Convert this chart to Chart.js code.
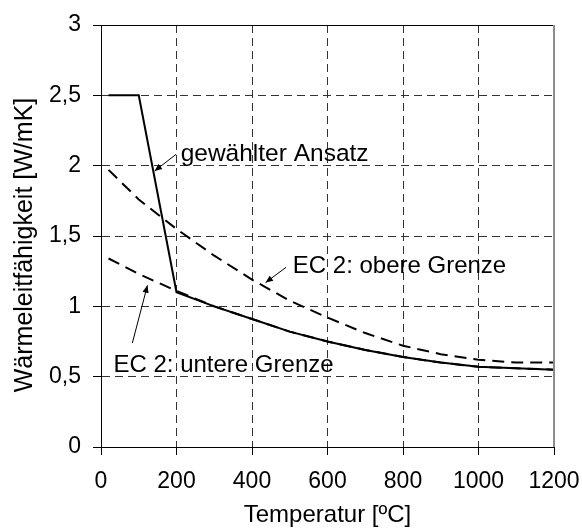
<!DOCTYPE html>
<html>
<head>
<meta charset="utf-8">
<script src="https://cdn.jsdelivr.net/npm/chart.js@4"></script>
<style>
html,body{margin:0;padding:0;background:#fff;}
canvas{display:block;}
</style>
</head>
<body>
<canvas id="c" width="582" height="530"></canvas>
<script>
// Temperatures [°C] and thermal conductivity values [W/mK]
const tempChosen = [20, 100, 200, 300, 400, 500, 600, 700, 800, 900, 1000, 1100, 1200];
const lambdaChosen = [2.5, 2.5, 1.10, 1.00, 0.91, 0.82, 0.75, 0.69, 0.64, 0.60, 0.57, 0.56, 0.55];

const tempEC = [20, 100, 200, 300, 400, 500, 600, 700, 800, 900, 1000, 1100, 1200];
const lambdaUpper = [1.97, 1.76, 1.55, 1.36, 1.19, 1.04, 0.92, 0.81, 0.72, 0.66, 0.62, 0.60, 0.60];
const lambdaLower = [1.34, 1.23, 1.11, 1.00, 0.91, 0.82, 0.75, 0.69, 0.64, 0.60, 0.57, 0.56, 0.55];

const xTicks = [0, 200, 400, 600, 800, 1000, 1200];
const yTicks = [0, 0.5, 1, 1.5, 2, 2.5, 3];

const xTitle = 'Temperatur [ºC]';
const yTitle = 'Wärmeleitfähigkeit [W/mK]';

// annotation labels (anchored in data units) and their arrows
const labelTexts = ['gewählter Ansatz', 'EC 2: obere Grenze', 'EC 2: untere Grenze'];
const labelX = [211, 508, 33];
const labelY = [2.033, 1.235, 0.535];
const arrowFromX = [199, 490, 83];
const arrowFromY = [2.081, 1.277, 0.739];
const arrowToX = [142, 436, 123];
const arrowToY = [1.962, 1.169, 1.149];

const toXY = (xs, ys) => xs.map((x, i) => ({x: x, y: ys[i]}));

const FONT = '"Liberation Sans", Arial, sans-serif';

const decoPlugin = {
  id: 'deco',
  afterDraw(chart) {
    const {ctx, chartArea: a, scales: {x, y}} = chart;
    ctx.save();
    // top frame line
    ctx.strokeStyle = '#000';
    ctx.lineWidth = 1;
    ctx.beginPath();
    ctx.moveTo(a.left, Math.round(a.top) + 0.5);
    ctx.lineTo(a.right, Math.round(a.top) + 0.5);
    ctx.stroke();
    // right frame line (gray)
    ctx.strokeStyle = '#8c8c8c';
    ctx.lineWidth = 2;
    ctx.beginPath();
    ctx.moveTo(a.right, a.top);
    ctx.lineTo(a.right, a.bottom);
    ctx.stroke();

    // annotation texts
    ctx.fillStyle = '#000';
    ctx.textAlign = 'left';
    ctx.textBaseline = 'alphabetic';
    labelTexts.forEach((t, i) => {
      ctx.font = (i === 0 ? '24.5px ' : '24px ') + FONT;
      ctx.fillText(t, x.getPixelForValue(labelX[i]), y.getPixelForValue(labelY[i]));
    });

    // arrows
    ctx.strokeStyle = '#000';
    ctx.lineWidth = 1;
    for (let i = 0; i < arrowFromX.length; i++) {
      const x1 = x.getPixelForValue(arrowFromX[i]), y1 = y.getPixelForValue(arrowFromY[i]);
      const x2 = x.getPixelForValue(arrowToX[i]), y2 = y.getPixelForValue(arrowToY[i]);
      ctx.beginPath();
      ctx.moveTo(x1, y1);
      ctx.lineTo(x2, y2);
      ctx.stroke();
      const ang = Math.atan2(y2 - y1, x2 - x1);
      const L = 8, w = 0.4;
      ctx.beginPath();
      ctx.moveTo(x2, y2);
      ctx.lineTo(x2 - L * Math.cos(ang - w), y2 - L * Math.sin(ang - w));
      ctx.lineTo(x2 - L * Math.cos(ang + w), y2 - L * Math.sin(ang + w));
      ctx.closePath();
      ctx.fill();
    }

    // y axis title
    ctx.save();
    ctx.translate(32, 245);
    ctx.rotate(-Math.PI / 2);
    ctx.font = '25px ' + FONT;
    ctx.textAlign = 'center';
    ctx.textBaseline = 'alphabetic';
    ctx.fillText(yTitle, 0, 0);
    ctx.restore();
    ctx.restore();
  }
};

new Chart(document.getElementById('c'), {
  type: 'line',
  data: {
    datasets: [
      {
        label: 'gewählter Ansatz',
        data: toXY(tempChosen, lambdaChosen),
        borderColor: '#000',
        borderWidth: 2,
        pointRadius: 0,
        tension: 0,
        fill: false
      },
      {
        label: 'EC 2: obere Grenze',
        data: toXY(tempEC, lambdaUpper),
        borderColor: '#000',
        borderWidth: 2,
        borderDash: [12, 7],
        pointRadius: 0,
        tension: 0,
        fill: false
      },
      {
        label: 'EC 2: untere Grenze',
        data: toXY(tempEC, lambdaLower),
        borderColor: '#000',
        borderWidth: 2,
        borderDash: [12, 7],
        pointRadius: 0,
        tension: 0,
        fill: false
      }
    ]
  },
  options: {
    responsive: false,
    animation: false,
    events: [],
    layout: {padding: {top: 25, right: 28, left: 0, bottom: 0}},
    plugins: {legend: {display: false}, tooltip: {enabled: false}, title: {display: false}},
    scales: {
      x: {
        type: 'linear',
        min: 0, max: 1200,
        afterBuildTicks: (s) => { s.ticks = xTicks.map(v => ({value: v})); },
        afterFit: (s) => { s.height = 83; s.paddingLeft = 0; s.paddingRight = 0; },
        ticks: {color: '#000', font: {family: FONT, size: 23}, padding: 13, maxRotation: 0,
                callback: (v) => String(v)},
        grid: {color: '#333', lineWidth: 1, tickLength: 8, tickColor: '#000', tickBorderDash: []},
        border: {color: '#000', width: 1, dash: [8, 5]},
        title: {display: true, text: xTitle, color: '#000', font: {family: FONT, size: 24}, padding: {top: 0, bottom: 0}}
      },
      y: {
        type: 'linear',
        min: 0, max: 3,
        afterBuildTicks: (s) => { s.ticks = yTicks.map(v => ({value: v})); },
        afterFit: (s) => { s.width = 101; s.paddingTop = 0; s.paddingBottom = 0; },
        ticks: {color: '#000', font: {family: FONT, size: 23}, padding: 12,
                callback: (v) => String(v).replace('.', ',')},
        grid: {color: '#333', lineWidth: 1, tickLength: 8, tickColor: '#000', tickBorderDash: []},
        border: {color: '#000', width: 1, dash: [8, 5]}
      }
    }
  },
  plugins: [decoPlugin]
});
</script>
</body>
</html>
